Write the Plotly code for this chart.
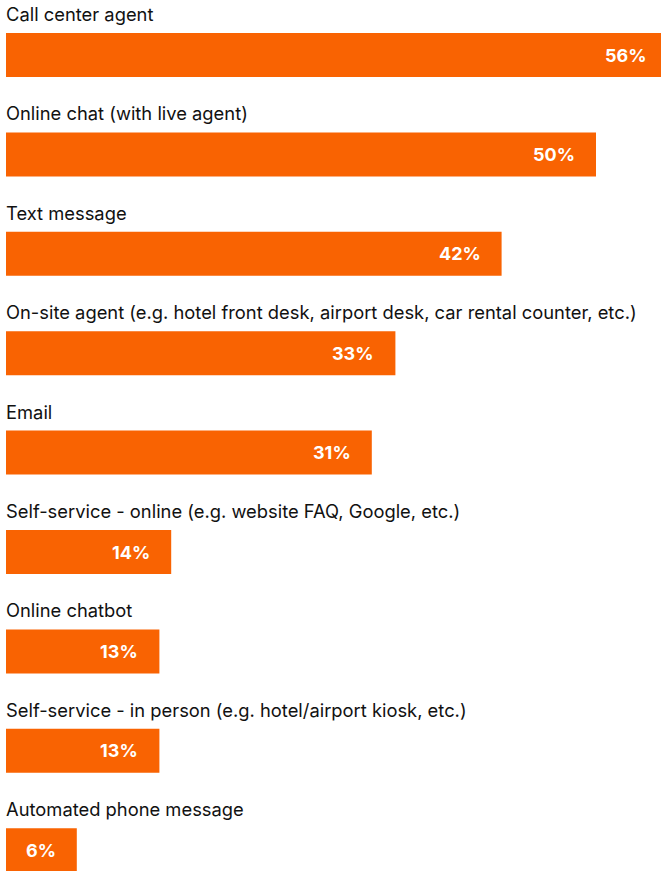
import plotly.graph_objects as go

categories = [
    "Call center agent",
    "Online chat (with live agent)",
    "Text message",
    "On-site agent (e.g. hotel front desk, airport desk, car rental counter, etc.)",
    "Email",
    "Self-service - online (e.g. website FAQ, Google, etc.)",
    "Online chatbot",
    "Self-service - in person (e.g. hotel/airport kiosk, etc.)",
    "Automated phone message",
]
values = [56, 50, 42, 33, 31, 14, 13, 13, 6]

ORANGE = "#F96302"
W, H = 661, 871
row_px = 99.4
top_px = 55
bar_px = 44
X_MAX = 655 / 11.8

positions = list(range(len(categories)))
y_top = -top_px / row_px
y_bottom = y_top + H / row_px

fig = go.Figure(
    go.Bar(
        x=values,
        y=positions,
        orientation="h",
        width=bar_px / row_px,
        marker=dict(color=ORANGE, line=dict(width=0)),
        hoverinfo="skip",
    )
)

annotations = []
for i, (cat, val) in enumerate(zip(categories, values)):
    annotations.append(dict(
        x=0, y=i - 41 / row_px, xref="paper", yref="y",
        text=cat, showarrow=False, xanchor="left", yanchor="middle",
        xshift=-2,
        font=dict(family="Inter", size=18.35, color="#111111"),
    ))
    annotations.append(dict(
        x=val / X_MAX, y=i, xref="paper", yref="y",
        text=f"<b>{val}%</b>", showarrow=False, xanchor="right", yanchor="middle",
        xshift=-19,
        font=dict(family="Inter", size=18, color="white"),
    ))

fig.update_layout(
    width=W, height=H,
    margin=dict(l=6, r=0, t=0, b=0),
    paper_bgcolor="white", plot_bgcolor="white",
    showlegend=False,
    xaxis=dict(range=[0, X_MAX], visible=False, fixedrange=True),
    yaxis=dict(range=[y_bottom, y_top], visible=False, fixedrange=True),
    annotations=annotations,
)

fig.write_html("out.html", config={"displayModeBar": False})
